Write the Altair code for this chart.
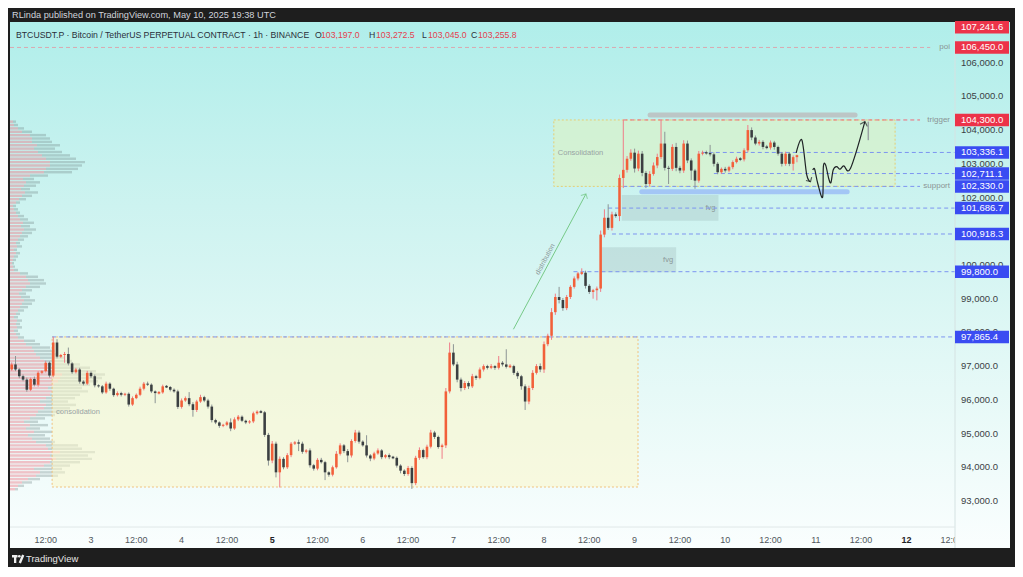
import altair as alt
import pandas as pd

# ---------------- scale limits (hours since 2 May 00:00 UTC, price) ----------------
T_MIN, T_MAX = 2.543, 252.87
P_MIN, P_MAX = 92229, 107205
FONT = "Liberation Sans"

# ---------------- candles: 1h, first candle 2 May 03:00 UTC ----------------
FIRST_OPEN = 96900
closes = [
    97050, 96900, 96700, 96600, 96300, 96620, 96450, 96800, 96850, 97100,
    96720, 97700, 97280, 97330, 97360, 97080, 96820, 96900, 96540, 96480,
    96800, 96700, 96430, 96400, 96220, 96480, 96330, 96140, 96200, 96150,
    96180, 95860, 96050, 96150, 96330, 96480, 96450, 96250, 96200, 96220,
    96400, 96380, 96300, 96250, 95790, 95980, 96050, 95870, 95700, 95950,
    96080, 95980, 95800, 95400, 95330, 95230, 95260, 95330, 95150, 95420,
    95500, 95380, 95330, 95360, 95600, 95650, 95630, 94960, 94200, 94700,
    93850, 94250, 94000, 94360, 94700, 94740, 94700, 94460, 94500, 94060,
    93960, 94220, 94150, 93850, 93780, 94000, 94400, 94650, 94480, 94350,
    94780, 95030, 94760, 94650, 94350, 94260, 94410, 94500, 94300, 94360,
    94300, 94280, 94050, 93900, 93800, 93980, 93530, 94280, 94510, 94300,
    94610, 95030, 94900, 94600, 94650, 96250, 97400, 97050, 96600, 96350,
    96500, 96400, 96700, 96650, 96900, 97000, 96950, 97000, 96950, 97100,
    97050, 96980, 97000, 96800, 96700, 96400, 95950, 96350, 96800, 97000,
    96900, 97650, 97900, 98600, 99050, 98960, 98720, 99050, 99350, 99600,
    99750, 99770, 99380, 99200, 99250, 99300, 100900, 101400, 101100, 101500,
    101450, 102580, 102820, 103150, 103330, 102860, 103300, 102730, 102400, 102700,
    102950, 103200, 103600, 102880, 102850, 103500, 102880, 102800, 103600, 103100,
    102800, 102500, 103300, 103330, 103320, 103280, 103000, 102750, 102850, 102800,
    102900, 103050, 103150, 103130, 103400, 104000, 103780, 103600, 103650, 103500,
    103480, 103630, 103500, 103300, 103000, 103300, 103000, 103197, 103255.8,
]
wick_hi = [
    60, 250, 40, 50, 60, 40, 70, 50, 30, 60,
    40, 165, 100, 30, 60, 190, 40, 50, 50, 40,
    60, 40, 50, 30, 40, 60, 40, 30, 50, 40,
    30, 40, 50, 40, 60, 50, 60, 40, 30, 40,
    50, 40, 30, 40, 50, 60, 50, 180, 60, 50,
    70, 40, 50, 60, 40, 30, 30, 40, 120, 60,
    50, 40, 30, 40, 50, 40, 50, 40, 60, 80,
    60, 70, 50, 60, 50, 40, 80, 60, 40, 60,
    40, 50, 60, 40, 30, 50, 80, 60, 40, 60,
    50, 80, 60, 40, 300, 40, 50, 60, 40, 30,
    50, 40, 40, 40, 40, 60, 50, 60, 80, 40,
    60, 80, 50, 40, 50, 100, 300, 250, 80, 60,
    60, 50, 70, 40, 60, 50, 40, 60, 30, 200,
    50, 450, 60, 40, 50, 40, 60, 70, 80, 60,
    80, 80, 60, 120, 100, 300, 60, 60, 50, 60,
    40, 130, 60, 50, 40, 60, 120, 250, 400, 80,
    60, 100, 1480, 80, 100, 120, 90, 80, 60, 80,
    90, 100, 700, 350, 60, 80, 120, 60, 100, 90,
    60, 50, 80, 60, 60, 240, 60, 50, 40, 60,
    40, 50, 60, 50, 60, 150, 80, 60, 60, 50,
    60, 60, 50, 40, 50, 60, 40, 50, 16.7,
]
wick_lo = [
    40, 50, 60, 50, 60, 40, 50, 60, 40, 40,
    60, 50, 50, 40, 230, 60, 50, 40, 60, 50,
    40, 50, 60, 40, 50, 40, 60, 50, 40, 50,
    40, 60, 40, 30, 40, 50, 40, 50, 300, 40,
    40, 30, 50, 40, 60, 50, 40, 60, 200, 60,
    40, 50, 60, 70, 50, 60, 40, 40, 80, 40,
    50, 40, 50, 40, 50, 40, 30, 60, 150, 80,
    150, 450, 60, 50, 60, 40, 220, 60, 50, 70,
    60, 50, 40, 230, 60, 50, 40, 50, 60, 200,
    60, 50, 60, 40, 60, 80, 50, 40, 60, 40,
    60, 40, 60, 80, 60, 50, 170, 60, 60, 50,
    60, 50, 60, 50, 350, 80, 60, 50, 80, 100,
    60, 80, 50, 60, 40, 60, 50, 40, 60, 50,
    60, 50, 40, 60, 80, 100, 250, 80, 60, 50,
    80, 100, 60, 120, 80, 100, 80, 60, 60, 50,
    60, 50, 80, 60, 200, 300, 100, 80, 60, 80,
    50, 150, 300, 80, 60, 120, 80, 100, 120, 60,
    50, 80, 60, 80, 450, 60, 100, 80, 70, 80,
    280, 240, 60, 50, 50, 60, 80, 60, 50, 60,
    50, 60, 40, 50, 60, 60, 80, 50, 60, 70,
    50, 60, 80, 60, 80, 60, 70, 200, 152,
]

# ---------------- visible-range volume profile ($100 rows) ----------------
vp_rows = list(range(93300, 104300, 100))
vp_up = [
    5, 8, 12, 18, 26, 30, 24, 34, 40, 46, 40, 50, 38, 36, 26, 22, 18, 24, 16, 20,
    14, 20, 26, 28, 34, 36, 30, 36, 40, 42, 38, 44, 48, 50, 52, 46, 44, 38, 34, 30,
    26, 24, 22, 16, 14, 8, 6, 4, 7, 6, 7, 4, 6, 8, 10, 12, 14, 11, 9, 12,
    16, 20, 18, 16, 10, 4, 3, 2, 3, 4, 6, 4, 7, 6, 8, 10, 12, 14, 11, 13,
    10, 8, 6, 4, 3, 6, 9, 12, 15, 11, 14, 16, 13, 20, 34, 36, 40, 40, 36, 32,
    28, 24, 27, 22, 22, 20, 12, 8, 4, 3,
]
vp_down = [
    3, 6, 10, 12, 22, 25, 28, 26, 30, 36, 38, 35, 34, 32, 19, 18, 17, 18, 14, 18,
    14, 15, 19, 24, 26, 30, 28, 29, 30, 36, 34, 36, 40, 42, 43, 40, 36, 32, 28, 25,
    22, 21, 18, 14, 11, 6, 4, 4, 5, 4, 5, 4, 4, 6, 8, 10, 11, 9, 7, 10,
    14, 16, 16, 12, 8, 4, 2, 2, 3, 4, 4, 3, 5, 4, 6, 8, 10, 12, 9, 11,
    8, 6, 4, 4, 3, 4, 7, 10, 13, 9, 12, 14, 11, 18, 28, 32, 32, 35, 30, 28,
    24, 21, 23, 20, 18, 16, 10, 6, 4, 3,
]

# ---------------- axes text ----------------
price_ticks = [93000, 94000, 95000, 96000, 97000, 98000, 99000, 100000,
               101000, 102000, 103000, 104000, 105000, 106000]
time_ticks = [12, 24, 36, 48, 60, 72, 84, 96, 108, 120, 132, 144, 156, 168,
              180, 192, 204, 216, 228, 240, 252]
time_labels = ["12:00", "3", "12:00", "4", "12:00", "5", "12:00", "6", "12:00", "7",
               "12:00", "8", "12:00", "9", "12:00", "10", "12:00", "11", "12:00", "12", "12:00"]

# ---------------- drawings ----------------
level_price = [106450.0, 104300.0, 103336.1, 102711.1, 102330.0, 101686.7, 100918.3, 99800.0, 97865.4]
level_start = [T_MIN, 165.0, 185.8, 189.0, 165.0, 161.0, 162.0, 151.8, 13.7]
level_end = [246.3, 243.6, T_MAX, T_MAX, 243.6, T_MAX, T_MAX, T_MAX, T_MAX]
level_kind = ["poi", "trigger", "level", "level", "support", "level", "level", "level", "level"]

badge_price = [107241.6, 106450.0, 104300.0, 103336.1, 102711.1, 102330.0,
               101686.7, 100918.3, 99800.0, 97865.4]
badge_kind = ["resistance", "resistance", "resistance", "level", "level", "level",
              "level", "level", "level", "level"]

box_t1 = [13.7, 146.6]
box_t2 = [168.9, 237.0]
box_top = [97865.4, 104300.0]
box_bot = [93415.0, 102330.0]
box_label = ["consolidation", "Consolidation"]
box_kind = ["lower", "upper"]

fvg_t1 = [164.6, 159.3]
fvg_t2 = [190.2, 179.0]
fvg_top = [102076, 100525]
fvg_bot = [101314, 99783]

zone_t1 = [172.1, 169.9]
zone_t2 = [226.4, 224.3]
zone_p = [104449, 102174]
zone_kind = ["resistance", "support"]

arrow_t = [135.9, 155.1]
arrow_p = [98093, 102106]

draw1_t = [210.8, 212.3, 213.6, 214.6]
draw1_p = [103322, 103707, 102669, 102471]
draw2_t = [215.2, 215.7, 216.5, 217.8, 218.0, 218.6, 219.4, 220.0, 220.6, 221.5, 222.4, 223.4, 225.2, 229.0]
draw2_p = [102817, 102838, 102423, 102008, 102915, 102966, 102571, 102441, 102817, 102915, 102838, 102936, 102868, 104250]
mark_t = [229.9]
mark_p_top = [104250]
mark_p_bot = [103700]

symbol_text = "BTCUSDT.P · Bitcoin / TetherUS PERPETUAL CONTRACT · 1h · BINANCE"
ohlc_keys = ["O", "H", "L", "C"]
ohlc_vals = [103197.0, 103272.5, 103045.0, 103255.8]
publish_text = "RLinda published on TradingView.com, May 10, 2025 19:38 UTC"

# ---------------- helpers ----------------
xs = alt.Scale(domain=[T_MIN, T_MAX], nice=False, zero=False)
ys = alt.Scale(domain=[P_MIN, P_MAX], nice=False, zero=False)


def X(f):
    return alt.X(f"{f}:Q", scale=xs, axis=None)


def Y(f):
    return alt.Y(f"{f}:Q", scale=ys, axis=None)


one = pd.DataFrame({"k": [0]})
grad = alt.Gradient(
    gradient="linear",
    stops=[alt.GradientStop(color="#b0eeea", offset=0),
           alt.GradientStop(color="#cdf3f0", offset=0.35),
           alt.GradientStop(color="#e6f9f7", offset=0.7),
           alt.GradientStop(color="#fafefe", offset=1)],
    x1=0, x2=0, y1=0, y2=1,
)

# background panel
bg = alt.Chart(one).mark_rect(fill=grad).encode(
    x=alt.value(0), x2=alt.value(1000), y=alt.value(0), y2=alt.value(526))

# volume profile
vdf = pd.DataFrame({"p": vp_rows, "up": vp_up, "down": vp_down})
vscale = alt.Scale(domain=[0, 945], nice=False, zero=True)
vbase = alt.Chart(vdf).transform_calculate(
    y1="datum.p + 14", y2="datum.p + 86", z="0", tot="datum.up + datum.down")
vp_red = vbase.mark_rect(color="#ee6b7a", opacity=0.4).encode(
    x=alt.X("z:Q", scale=vscale, axis=None), x2="up:Q", y=Y("y1"), y2="y2:Q")
vp_gray = vbase.mark_rect(color="#75898a", opacity=0.35).encode(
    x=alt.X("up:Q", scale=vscale, axis=None), x2="tot:Q", y=Y("y1"), y2="y2:Q")
vp = alt.layer(vp_red, vp_gray)

# boxes
bdf = pd.DataFrame({"t1": box_t1, "t2": box_t2, "top": box_top, "bot": box_bot,
                    "label": box_label, "kind": box_kind})
boxes = alt.Chart(bdf).mark_rect(fillOpacity=0.55, strokeDash=[2, 2], strokeWidth=1).encode(
    x=X("t1"), x2="t2:Q", y=Y("top"), y2="bot:Q",
    fill=alt.Fill("kind:N", scale=alt.Scale(domain=["lower", "upper"], range=["#fbf6c8", "#e0f2c0"]), legend=None),
    stroke=alt.Stroke("kind:N", scale=alt.Scale(domain=["lower", "upper"], range=["#f0c27e", "#e6cf74"]), legend=None),
)
box_text = alt.Chart(bdf).transform_calculate(mid="(datum.top + datum.bot) / 2").mark_text(
    align="left", baseline="middle", dx=4, fontSize=7.5, color="#98a3a3", font=FONT).encode(
    x=X("t1"), y=Y("mid"), text="label:N")

fdf = pd.DataFrame({"t1": fvg_t1, "t2": fvg_t2, "top": fvg_top, "bot": fvg_bot})
fvg = alt.Chart(fdf).mark_rect(fill="#9ab6b8", fillOpacity=0.32).encode(
    x=X("t1"), x2="t2:Q", y=Y("top"), y2="bot:Q")
fvg_text = alt.Chart(fdf).transform_calculate(mid="(datum.top + datum.bot) / 2").mark_text(
    align="right", baseline="middle", dx=-3, fontSize=7.5, color="#8a9898", font=FONT, text="fvg").encode(
    x=X("t2"), y=Y("mid"))

zdf = pd.DataFrame({"t1": zone_t1, "t2": zone_t2, "p": zone_p, "kind": zone_kind})
zones = alt.Chart(zdf).mark_rule(strokeWidth=5, strokeCap="round").encode(
    x=X("t1"), x2="t2:Q", y=Y("p"),
    color=alt.Color("kind:N", scale=alt.Scale(domain=["resistance", "support"], range=["#bcc6c6", "#a3c6f5"]), legend=None))

ldf = pd.DataFrame({"t1": level_start, "t2": level_end, "p": level_price, "kind": level_kind})
levels = alt.Chart(ldf).mark_rule(strokeDash=[4, 3], strokeWidth=1).encode(
    x=X("t1"), x2="t2:Q", y=Y("p"),
    color=alt.Color("kind:N", scale=alt.Scale(domain=["poi", "trigger", "support", "level"],
                                              range=["#d9a9b0", "#ef6b78", "#7d95f0", "#7d95f0"]), legend=None))
level_text = alt.Chart(ldf).transform_filter("datum.kind != 'level'").mark_text(
    align="right", baseline="middle", fontSize=8, color="#8a9494", font=FONT).encode(
    x=alt.value(940), y=Y("p"), text="kind:N")

# candles
n = len(closes)
cdf = pd.DataFrame({"t": [3 + i for i in range(n)], "o": [FIRST_OPEN] + closes[:-1],
                    "c": closes, "wh": wick_hi, "wl": wick_lo})
cbase = alt.Chart(cdf).transform_calculate(
    dir="datum.c >= datum.o ? 'up' : 'down'",
    h="max(datum.o, datum.c) + datum.wh",
    l="min(datum.o, datum.c) - datum.wl",
    tl="datum.t - 0.34", tr="datum.t + 0.34",
    bhi="max(datum.o, datum.c) + (abs(datum.c - datum.o) < 30 ? 15 : 0)",
    blo="min(datum.o, datum.c) - (abs(datum.c - datum.o) < 30 ? 15 : 0)",
)
wicks = cbase.mark_rule(strokeWidth=1).encode(
    x=X("t"), y=Y("l"), y2="h:Q",
    color=alt.Color("dir:N", scale=alt.Scale(domain=["up", "down"], range=["#f07c88", "#8c9494"]), legend=None))
bodies = cbase.mark_rect().encode(
    x=X("tl"), x2="tr:Q", y=Y("blo"), y2="bhi:Q",
    color=alt.Color("dir:N", scale=alt.Scale(domain=["up", "down"], range=["#f2603a", "#3b3f41"]), legend=None))

# arrow "distribution"
adf = pd.DataFrame({"t": arrow_t, "p": arrow_p, "seq": [0, 1]})
arrow_line = alt.Chart(adf).mark_line(color="#76c987", strokeWidth=1).encode(
    x=X("t"), y=Y("p"), order="seq:Q")
arrow_head = alt.Chart(adf).transform_filter("datum.seq == 1").mark_point(
    shape="M-1,1L0,0L1,1", filled=False, size=55, strokeWidth=1, color="#76c987", angle=28).encode(
    x=X("t"), y=Y("p"))
arrow_text = alt.Chart(adf).transform_aggregate(t="mean(t)", p="mean(p)").mark_text(
    angle=298, dy=-5, fontSize=7, color="#8c9a9a", font=FONT, text="distribution",
    baseline="middle").encode(x=X("t"), y=Y("p"))

# hand drawing
ddf = pd.DataFrame({
    "t": draw1_t + draw2_t, "p": draw1_p + draw2_p,
    "stroke": [1] * len(draw1_t) + [2] * len(draw2_t),
    "seq": list(range(len(draw1_t))) + list(range(len(draw2_t))),
})
draw = alt.Chart(ddf).mark_line(color="#1f2326", strokeWidth=1.2, interpolate="cardinal").encode(
    x=X("t"), y=Y("p"), detail="stroke:N", order="seq:Q")
head1 = alt.Chart(ddf.iloc[[len(draw1_t) - 1]]).mark_point(
    shape="M-1,1L0,0L1,1", filled=False, size=45, strokeWidth=1.2, color="#1f2326", angle=149).encode(
    x=X("t"), y=Y("p"))
head2 = alt.Chart(ddf.iloc[[len(ddf) - 1]]).mark_point(
    shape="M-1,1L0,0L1,1", filled=False, size=60, strokeWidth=1.2, color="#1f2326", angle=17).encode(
    x=X("t"), y=Y("p"))
mdf = pd.DataFrame({"t": mark_t, "top": mark_p_top, "bot": mark_p_bot})
marker = alt.Chart(mdf).mark_rule(color="#9aa4a4", strokeWidth=1.5).encode(
    x=X("t"), y=Y("bot"), y2="top:Q")

# time axis labels
tdf = pd.DataFrame({"t": time_ticks, "label": time_labels})
time_norm = alt.Chart(tdf).transform_filter("datum.label != '5' && datum.label != '12'").mark_text(
    fontSize=9, color="#50565c", font=FONT, baseline="middle").encode(
    x=X("t"), y=alt.value(518), text="label:N")
time_bold = alt.Chart(tdf).transform_filter("datum.label == '5' || datum.label == '12'").mark_text(
    fontSize=9, color="#1f2326", font=FONT, fontWeight="bold", baseline="middle").encode(
    x=X("t"), y=alt.value(518), text="label:N")

# price column
col_cover = alt.Chart(one).mark_rect(fill=grad).encode(
    x=alt.value(945), x2=alt.value(1000), y=alt.value(0), y2=alt.value(526))
sep_v = alt.Chart(one).mark_rule(color="#d5e2e2", strokeWidth=1).encode(
    x=alt.value(945), y=alt.value(0), y2=alt.value(526))
sep_h = alt.Chart(one).mark_rule(color="#e0e8e8", strokeWidth=1).encode(
    x=alt.value(0), x2=alt.value(945), y=alt.value(505))
pdf = pd.DataFrame({"p": price_ticks})
price_text = alt.Chart(pdf).mark_text(
    align="left", baseline="middle", fontSize=9.5, color="#3a3f45", font=FONT).encode(
    x=alt.value(951), y=Y("p"), text=alt.Text("p:Q", format=",.1f"))

badf = pd.DataFrame({"p": badge_price, "kind": badge_kind})
bb = alt.Chart(badf).transform_calculate(yd="min(datum.p, 107050)")
badges = bb.mark_rule(strokeWidth=12.5).encode(
    x=alt.value(945), x2=alt.value(999), y=Y("yd"),
    color=alt.Color("kind:N", scale=alt.Scale(domain=["resistance", "level"], range=["#ec3349", "#3a4cf2"]), legend=None))
badge_text = bb.mark_text(align="left", baseline="middle", fontSize=9.5, color="white", font=FONT).encode(
    x=alt.value(951), y=Y("yd"), text=alt.Text("p:Q", format=",.1f"))

# header texts
publish = alt.Chart(one).mark_text(align="left", baseline="middle", fontSize=9.2, color="#d1d4dc",
                                   font=FONT, text=publish_text).encode(x=alt.value(2), y=alt.value(-7))
symbol = alt.Chart(one).mark_text(align="left", baseline="middle", fontSize=8.7, color="#2a2e39",
                                  font=FONT, text=symbol_text).encode(x=alt.value(6), y=alt.value(13))
key_x = [305, 359, 412, 461]
val_x = [311, 366, 418, 468]
ohlc = []
for k, v, kx, vx in zip(ohlc_keys, ohlc_vals, key_x, val_x):
    ohlc.append(alt.Chart(one).mark_text(align="left", baseline="middle", fontSize=8.7, color="#2a2e39",
                                         font=FONT, text=k).encode(x=alt.value(kx), y=alt.value(13)))
    ohlc.append(alt.Chart(one).mark_text(align="left", baseline="middle", fontSize=8.7, color="#e5404f",
                                         font=FONT, text=f"{v:,.1f}").encode(x=alt.value(vx), y=alt.value(13)))

# footer logo
logo_t1 = alt.Chart(one).mark_rect(color="#f0f0f0").encode(
    x=alt.value(2), x2=alt.value(7.5), y=alt.value(533), y2=alt.value(535.5))
logo_t2 = alt.Chart(one).mark_rect(color="#f0f0f0").encode(
    x=alt.value(4), x2=alt.value(6.3), y=alt.value(533), y2=alt.value(541))
logo_dot = alt.Chart(one).mark_point(shape="circle", filled=True, size=7, color="#f0f0f0", opacity=1).encode(
    x=alt.value(9.3), y=alt.value(534.3))
logo_sl = alt.Chart(one).mark_rule(color="#f0f0f0", strokeWidth=2.4).encode(
    x=alt.value(13.2), y=alt.value(533), x2=alt.value(9.8), y2=alt.value(541))
footer = alt.Chart(one).mark_text(align="left", baseline="middle", fontSize=9.5, color="#e6e6e6",
                                  font=FONT, text="TradingView").encode(x=alt.value(16), y=alt.value(537))

main = alt.layer(
    boxes, box_text, fvg, fvg_text, zones, levels,
    wicks, bodies, arrow_line, arrow_head, arrow_text, draw, head1, head2, marker,
    level_text, time_norm, time_bold, col_cover, sep_v, sep_h, price_text, badges, badge_text,
    publish, symbol, *ohlc, logo_t1, logo_t2, logo_dot, logo_sl, footer,
).resolve_scale(color="independent", fill="independent", stroke="independent")

chart = alt.layer(bg, vp, main).resolve_scale(x="independent").properties(
    width=945, height=505,
    autosize=alt.AutoSizeParams(type="none"),
    padding={"left": 2, "top": 14, "right": 60, "bottom": 40},
    background="#1e1e1e",
).configure_view(strokeWidth=0)

chart.save("out.html", embed_options={"renderer": "svg", "actions": False})
